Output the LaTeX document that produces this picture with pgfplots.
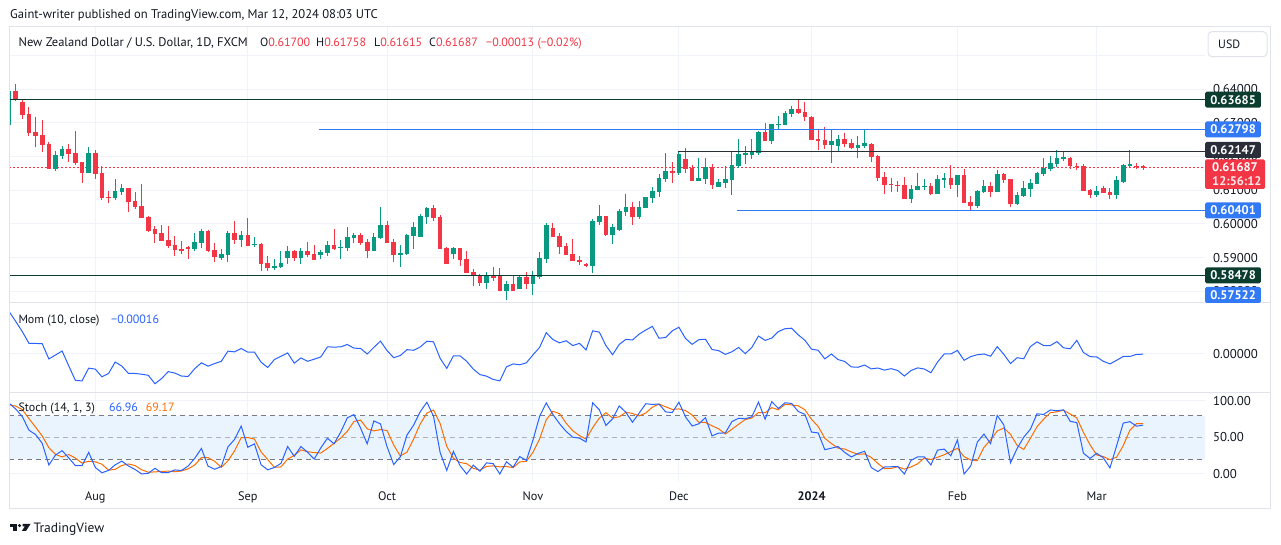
\documentclass[border=0pt]{standalone}
\usepackage{pgfplots}
\pgfplotsset{compat=1.18}
\usepackage{pgfplotstable}
\usepackage{fontspec}
\setmainfont{PT Sans}
\definecolor{tvgreen}{HTML}{089981}
\definecolor{tvred}{HTML}{F23645}
\definecolor{tvblue}{HTML}{2962FF}
\definecolor{tvorange}{HTML}{FF6D00}
\definecolor{tvtext}{HTML}{131722}
\definecolor{tvgrid}{HTML}{F0F3FA}
\definecolor{tvborder}{HTML}{E0E3EB}
\definecolor{tvdgreen}{HTML}{0B3D2E}
\definecolor{tvlblue}{HTML}{3179F5}
\definecolor{tvdark}{HTML}{2A2E39}
\definecolor{tvdash}{HTML}{787B86}
\definecolor{tvband}{HTML}{E9F4FE}

\pgfplotstableread{
i O H L C
0 0.6294 0.6397 0.6291 0.6394
1 0.6394 0.6415 0.6365 0.6368
2 0.6362 0.6368 0.6312 0.6324
3 0.6326 0.6347 0.6261 0.6270
4 0.6273 0.6318 0.6228 0.6261
5 0.6264 0.6308 0.6213 0.6234
6 0.6237 0.6243 0.6163 0.6163
7 0.6163 0.6216 0.6157 0.6204
8 0.6201 0.6231 0.6192 0.6222
9 0.6222 0.6237 0.6184 0.6207
10 0.6210 0.6276 0.6175 0.6181
11 0.6184 0.6184 0.6122 0.6151
12 0.6151 0.6228 0.6151 0.6210
13 0.6210 0.6219 0.6133 0.6148
14 0.6151 0.6172 0.6071 0.6077
15 0.6080 0.6098 0.6062 0.6077
16 0.6077 0.6133 0.6071 0.6098
17 0.6095 0.6119 0.6086 0.6107
18 0.6107 0.6107 0.6035 0.6065
19 0.6068 0.6095 0.6044 0.6050
20 0.6053 0.6119 0.6018 0.6018
21 0.6021 0.6024 0.5976 0.5979
22 0.5985 0.5994 0.5944 0.5970
23 0.5973 0.5997 0.5950 0.5950
24 0.5952 0.5994 0.5929 0.5935
25 0.5938 0.5964 0.5905 0.5923
26 0.5926 0.5950 0.5911 0.5920
27 0.5932 0.5935 0.5896 0.5926
28 0.5926 0.5973 0.5920 0.5947
29 0.5944 0.5985 0.5929 0.5979
30 0.5979 0.5982 0.5917 0.5920
31 0.5923 0.5944 0.5887 0.5902
32 0.5899 0.5926 0.5893 0.5911
33 0.5908 0.5979 0.5887 0.5973
34 0.5973 0.6009 0.5941 0.5952
35 0.5952 0.5979 0.5932 0.5967
36 0.5967 0.6018 0.5935 0.5935
37 0.5938 0.5961 0.5932 0.5941
38 0.5941 0.5944 0.5861 0.5881
39 0.5884 0.5905 0.5861 0.5870
40 0.5872 0.5896 0.5864 0.5875
41 0.5872 0.5920 0.5870 0.5884
42 0.5899 0.5935 0.5881 0.5920
43 0.5920 0.5923 0.5890 0.5899
44 0.5899 0.5929 0.5881 0.5920
45 0.5920 0.5947 0.5902 0.5908
46 0.5911 0.5938 0.5893 0.5893
47 0.5908 0.5923 0.5896 0.5917
48 0.5914 0.5950 0.5905 0.5938
49 0.5938 0.5985 0.5923 0.5926
50 0.5929 0.5952 0.5896 0.5932
51 0.5929 0.5991 0.5920 0.5961
52 0.5958 0.5973 0.5944 0.5967
53 0.5967 0.5973 0.5938 0.5944
54 0.5947 0.5955 0.5899 0.5920
55 0.5920 0.5973 0.5920 0.5961
56 0.5958 0.6050 0.5955 0.5997
57 0.5997 0.6009 0.5944 0.5944
58 0.5947 0.5955 0.5887 0.5908
59 0.5908 0.5938 0.5872 0.5914
60 0.5911 0.5970 0.5908 0.5967
61 0.5964 0.6006 0.5926 0.5991
62 0.5961 0.6030 0.5961 0.6024
63 0.6021 0.6050 0.6000 0.6047
64 0.6047 0.6056 0.6009 0.6018
65 0.6021 0.6027 0.5926 0.5926
66 0.5929 0.5932 0.5881 0.5881
67 0.5911 0.5932 0.5896 0.5929
68 0.5929 0.5929 0.5875 0.5893
69 0.5896 0.5920 0.5855 0.5855
70 0.5858 0.5867 0.5816 0.5845
71 0.5848 0.5852 0.5816 0.5825
72 0.5825 0.5858 0.5807 0.5845
73 0.5845 0.5872 0.5831 0.5842
74 0.5845 0.5870 0.5801 0.5801
75 0.5801 0.5831 0.5775 0.5822
76 0.5822 0.5845 0.5801 0.5801
77 0.5807 0.5845 0.5807 0.5842
78 0.5842 0.5858 0.5807 0.5822
79 0.5822 0.5861 0.5790 0.5848
80 0.5842 0.5917 0.5836 0.5899
81 0.5896 0.6003 0.5884 0.5997
82 0.5988 0.6003 0.5961 0.5961
83 0.5964 0.5973 0.5911 0.5932
84 0.5935 0.5944 0.5908 0.5908
85 0.5911 0.5955 0.5890 0.5890
86 0.5893 0.5905 0.5878 0.5887
87 0.5881 0.5884 0.5872 0.5875
88 0.5875 0.6015 0.5855 0.6009
89 0.6006 0.6056 0.5997 0.6024
90 0.6024 0.6024 0.5964 0.5967
91 0.5967 0.6000 0.5941 0.5991
92 0.5982 0.6044 0.5979 0.6038
93 0.6035 0.6089 0.6024 0.6050
94 0.6050 0.6065 0.5997 0.6021
95 0.6021 0.6068 0.6015 0.6050
96 0.6047 0.6080 0.6047 0.6080
97 0.6077 0.6110 0.6062 0.6098
98 0.6095 0.6148 0.6080 0.6136
99 0.6133 0.6210 0.6125 0.6157
100 0.6157 0.6184 0.6122 0.6154
101 0.6151 0.6213 0.6145 0.6207
102 0.6192 0.6225 0.6151 0.6163
103 0.6166 0.6175 0.6128 0.6128
104 0.6128 0.6195 0.6128 0.6136
105 0.6133 0.6195 0.6119 0.6169
106 0.6169 0.6178 0.6104 0.6116
107 0.6110 0.6133 0.6110 0.6125
108 0.6122 0.6172 0.6107 0.6133
109 0.6130 0.6216 0.6086 0.6175
110 0.6172 0.6252 0.6166 0.6207
111 0.6207 0.6231 0.6178 0.6210
112 0.6204 0.6252 0.6192 0.6216
113 0.6210 0.6276 0.6204 0.6273
114 0.6273 0.6299 0.6246 0.6246
115 0.6246 0.6297 0.6237 0.6297
116 0.6294 0.6321 0.6282 0.6297
117 0.6294 0.6335 0.6294 0.6329
118 0.6326 0.6350 0.6318 0.6341
119 0.6341 0.6370 0.6326 0.6329
120 0.6332 0.6362 0.6305 0.6318
121 0.6318 0.6321 0.6249 0.6249
122 0.6252 0.6279 0.6219 0.6246
123 0.6249 0.6288 0.6222 0.6234
124 0.6234 0.6279 0.6181 0.6246
125 0.6231 0.6264 0.6213 0.6252
126 0.6252 0.6270 0.6228 0.6237
127 0.6240 0.6252 0.6222 0.6225
128 0.6225 0.6261 0.6195 0.6234
129 0.6231 0.6279 0.6225 0.6240
130 0.6237 0.6240 0.6184 0.6198
131 0.6201 0.6204 0.6128 0.6136
132 0.6139 0.6154 0.6089 0.6116
133 0.6119 0.6136 0.6095 0.6116
134 0.6116 0.6128 0.6095 0.6113
135 0.6116 0.6139 0.6074 0.6074
136 0.6074 0.6116 0.6062 0.6104
137 0.6101 0.6151 0.6101 0.6113
138 0.6110 0.6133 0.6101 0.6113
139 0.6113 0.6122 0.6086 0.6089
140 0.6089 0.6145 0.6089 0.6133
141 0.6133 0.6151 0.6107 0.6136
142 0.6136 0.6175 0.6104 0.6116
143 0.6116 0.6145 0.6080 0.6145
144 0.6145 0.6163 0.6062 0.6062
145 0.6065 0.6083 0.6038 0.6053
146 0.6053 0.6101 0.6047 0.6098
147 0.6095 0.6130 0.6092 0.6113
148 0.6113 0.6125 0.6080 0.6095
149 0.6095 0.6160 0.6095 0.6148
150 0.6148 0.6151 0.6122 0.6130
151 0.6133 0.6133 0.6050 0.6059
152 0.6059 0.6095 0.6056 0.6086
153 0.6083 0.6128 0.6080 0.6107
154 0.6104 0.6133 0.6080 0.6122
155 0.6119 0.6154 0.6119 0.6151
156 0.6148 0.6195 0.6142 0.6166
157 0.6163 0.6201 0.6157 0.6181
158 0.6178 0.6219 0.6169 0.6195
159 0.6195 0.6216 0.6187 0.6198
160 0.6195 0.6198 0.6163 0.6172
161 0.6172 0.6181 0.6160 0.6169
162 0.6172 0.6178 0.6098 0.6098
163 0.6101 0.6104 0.6077 0.6086
164 0.6086 0.6113 0.6080 0.6098
165 0.6107 0.6113 0.6092 0.6092
166 0.6095 0.6107 0.6074 0.6086
167 0.6086 0.6142 0.6074 0.6130
168 0.6125 0.6178 0.6122 0.6175
169 0.6172 0.6219 0.6166 0.6178
170 0.6172 0.6181 0.6163 0.6169
171 0.61700 0.61758 0.61615 0.61687
}\candles

\pgfplotstableread{
i m
0 0.0343
1 0.0263
2 0.0180
3 0.0086
4 0.0085
5 0.0083
6 -0.0040
7 -0.0008
8 0.0024
9 -0.0096
10 -0.0213
11 -0.0217
12 -0.0114
13 -0.0122
14 -0.0184
15 -0.0157
16 -0.0065
17 -0.0097
18 -0.0157
19 -0.0157
20 -0.0163
21 -0.0172
22 -0.0240
23 -0.0198
24 -0.0142
25 -0.0154
26 -0.0178
27 -0.0181
28 -0.0118
29 -0.0071
30 -0.0098
31 -0.0077
32 -0.0059
33 0.0023
34 0.0017
35 0.0044
36 0.0015
37 0.0015
38 -0.0066
39 -0.0109
40 -0.0045
41 -0.0018
42 0.0009
43 -0.0074
44 -0.0032
45 -0.0059
46 -0.0042
47 -0.0024
48 0.0057
49 0.0056
50 0.0057
51 0.0077
52 0.0047
53 0.0045
54 0.0000
55 0.0053
56 0.0104
57 0.0027
58 -0.0030
59 -0.0012
60 0.0035
61 0.0030
62 0.0057
63 0.0103
64 0.0098
65 -0.0035
66 -0.0116
67 -0.0015
68 -0.0015
69 -0.0059
70 -0.0122
71 -0.0166
72 -0.0179
73 -0.0205
74 -0.0217
75 -0.0104
76 -0.0080
77 -0.0087
78 -0.0071
79 -0.0007
80 0.0054
81 0.0172
82 0.0116
83 0.0090
84 0.0107
85 0.0068
86 0.0086
87 0.0033
88 0.0187
89 0.0176
90 0.0068
91 -0.0006
92 0.0077
93 0.0118
94 0.0113
95 0.0160
96 0.0193
97 0.0223
98 0.0127
99 0.0133
100 0.0187
101 0.0216
102 0.0125
103 0.0078
104 0.0115
105 0.0119
106 0.0036
107 0.0027
108 -0.0003
109 0.0018
110 0.0053
111 0.0003
112 0.0053
113 0.0145
114 0.0110
115 0.0128
116 0.0181
117 0.0204
118 0.0208
119 0.0154
120 0.0111
121 0.0039
122 0.0030
123 -0.0039
124 0.0000
125 -0.0045
126 -0.0060
127 -0.0104
128 -0.0107
129 -0.0089
130 -0.0120
131 -0.0113
132 -0.0130
133 -0.0118
134 -0.0133
135 -0.0178
136 -0.0133
137 -0.0112
138 -0.0121
139 -0.0151
140 -0.0065
141 0.0000
142 0.0000
143 0.0029
144 -0.0051
145 -0.0021
146 -0.0006
147 0.0000
148 -0.0018
149 0.0059
150 -0.0003
151 -0.0077
152 -0.0030
153 -0.0038
154 0.0060
155 0.0098
156 0.0068
157 0.0068
158 0.0100
159 0.0050
160 0.0042
161 0.0110
162 0.0012
163 -0.0021
164 -0.0024
165 -0.0059
166 -0.0080
167 -0.0051
168 -0.0020
169 -0.0020
170 -0.0003
171 -0.00016
}\mom

\pgfplotstableread{
i k d
0 97 95
1 89 93
2 78.5 88.2
3 60 75.8
4 54 64.2
5 42 52.0
6 12.3 36.1
7 26 26.8
8 32 23.4
9 22 26.7
10 11.4 21.8
11 11.4 14.9
12 29.7 17.5
13 8.9 16.7
14 1.7 13.4
15 4.9 5.2
16 12.6 6.4
17 17.6 11.7
18 11.0 13.7
19 6.2 11.6
20 0 5.7
21 1.0 2.4
22 7.8 2.9
23 1.8 3.5
24 2.0 3.9
25 5.6 3.1
26 4.8 4.1
27 10.9 7.1
28 21.5 12.4
29 35.0 22.5
30 10.8 22.4
31 6.5 17.4
32 10.3 9.2
33 37.1 18.0
34 47.4 31.6
35 65.6 50.0
36 36.6 49.9
37 41.2 47.8
38 12.7 30.2
39 5.7 19.9
40 8.9 9.1
41 14.6 9.7
42 37.6 20.4
43 24.2 25.5
44 37.6 33.1
45 29.9 30.6
46 20.4 29.3
47 35.7 28.7
48 49.0 35.0
49 41.4 42.0
50 57.3 49.2
51 76.9 58.5
52 81.5 71.9
53 63.0 73.8
54 41.3 61.9
55 72.7 59.0
56 68.6 60.9
57 37.3 59.5
58 12.9 39.6
59 23.6 24.6
60 53.4 30.0
61 66.9 48.0
62 85.4 68.6
63 98.3 83.5
64 79.3 87.7
65 29.3 69.0
66 4.9 37.8
67 31.0 21.7
68 11.4 15.8
69 0 14.1
70 12.1 7.8
71 3.8 5.3
72 15.3 10.4
73 14.1 11.1
74 0 9.8
75 16.7 10.3
76 9.3 8.7
77 23.8 16.6
78 18.7 17.3
79 46.5 29.7
80 79.0 48.1
81 97.4 74.3
82 81.6 86.0
83 68.9 82.6
84 58.3 69.6
85 50.4 59.2
86 49.1 52.6
87 43.9 47.8
88 97.5 63.5
89 88.0 76.5
90 66.5 84.0
91 75.6 76.7
92 93.2 78.4
93 84.6 84.5
94 70.9 82.9
95 83.3 79.6
96 96.2 83.5
97 95.3 91.6
98 95.9 95.8
99 85.1 92.1
100 84.2 88.4
101 98.3 89.2
102 78.2 86.9
103 65.8 80.8
104 68.7 70.9
105 77.2 70.6
106 52.2 66.0
107 56.1 61.8
108 56.2 54.8
109 71.9 61.4
110 76.3 68.1
111 75.6 74.6
112 78.3 76.7
113 98.4 84.1
114 75.1 83.9
115 99.1 90.9
116 89.8 88.0
117 97.6 95.5
118 96.6 94.7
119 85.6 93.3
120 81.7 88.0
121 57.4 74.9
122 56.3 65.1
123 33.3 49.0
124 35.4 41.7
125 37.6 35.4
126 29.6 34.2
127 23.3 30.2
128 28.0 27.0
129 31.2 27.5
130 9.0 22.7
131 3.3 14.5
132 9.6 7.3
133 9.9 7.6
134 10.3 9.9
135 0 6.7
136 18.6 9.6
137 23.5 14.0
138 23.5 21.9
139 12.4 19.8
140 32.7 22.9
141 34.1 26.4
142 24.9 30.6
143 46.6 35.2
144 0 23.8
145 10.9 19.2
146 43.8 18.2
147 54.7 36.5
148 41.6 46.7
149 80.3 58.9
150 67.2 63.0
151 15.3 54.3
152 35.0 39.2
153 50.4 33.6
154 61.3 48.9
155 82.5 64.7
156 81.5 75.1
157 87.7 83.9
158 86.7 85.3
159 87.8 87.4
160 72.2 82.2
161 70.4 76.8
162 28.4 57.0
163 21.3 40.0
164 28.4 26.0
165 22.1 23.9
166 8.3 19.6
167 38.6 23.0
168 69.7 38.9
169 71.7 60.0
170 65.5 69.0
171 66.96 69.17
}\stoch

\pgfplotsset{
  tvpane/.style={
    scale only axis, width=1195pt, anchor=south west, at={(0pt,0pt)},
    xmin=0.139, xmax=180.33,
    scaled x ticks=false, scaled y ticks=false,
    axis line style={draw=none}, major tick length=0pt, tick style={draw=none},
    xtick={13,36,57,79,101,121,143,164},
    xmajorgrids, ymajorgrids,
    major grid style={draw=tvgrid, line width=1pt},
    yticklabel pos=right,
    yticklabel style={anchor=west, inner sep=0pt, xshift=8pt, text=tvtext, font=\fontsize{12.8}{14}\selectfont},
  },
  wick/.style={draw=none, mark=none, forget plot, unbounded coords=discard,
    error bars/y dir=both, error bars/y explicit, error bars/error mark=none,
    error bars/error bar style={draw=#1, solid, line width=1pt}},
  body/.style={draw=none, mark=none, forget plot, unbounded coords=discard,
    error bars/y dir=both, error bars/y explicit, error bars/error mark=none,
    error bars/error bar style={draw=#1, solid, line width=4.6pt}},
}

\begin{document}
\begin{tikzpicture}[x=1pt,y=1pt,font=\fontsize{12}{14}\selectfont]
\fill[white] (0,0) rectangle (1281,545);

% ---------------- price pane
\begin{scope}[shift={(10pt,242pt)}]
\begin{axis}[tvpane, height=276pt,
  ymin=0.57657, ymax=0.65840,
  ytick={0.58,0.59,0.60,0.61,0.62,0.63,0.64,0.65},
  yticklabels={0.58000,0.59000,0.60000,0.61000,0.62000,0.63000,0.64000,{}},
  xticklabels={}]
\addplot[tvred, line width=1pt, dash pattern=on 2pt off 2pt, forget plot] coordinates {(0,0.61687) (181,0.61687)};
% green candles
\addplot[wick=tvgreen, restrict expr to domain={\thisrow{C}-\thisrow{O}}{0:1}]
  table[x=i, y expr={(\thisrow{H}+\thisrow{L})/2}, y error expr={(\thisrow{H}-\thisrow{L})/2}] {\candles};
\addplot[body=tvgreen, restrict expr to domain={\thisrow{C}-\thisrow{O}}{0:1}]
  table[x=i, y expr={(\thisrow{O}+\thisrow{C})/2}, y error expr={max(abs(\thisrow{C}-\thisrow{O})/2,0.00015)}] {\candles};
% red candles
\addplot[wick=tvred, restrict expr to domain={\thisrow{O}-\thisrow{C}}{0.00001:1}]
  table[x=i, y expr={(\thisrow{H}+\thisrow{L})/2}, y error expr={(\thisrow{H}-\thisrow{L})/2}] {\candles};
\addplot[body=tvred, restrict expr to domain={\thisrow{O}-\thisrow{C}}{0.00001:1}]
  table[x=i, y expr={(\thisrow{O}+\thisrow{C})/2}, y error expr={max(abs(\thisrow{C}-\thisrow{O})/2,0.00015)}] {\candles};
% drawn horizontal levels
\addplot[tvdgreen, line width=1.2pt] coordinates {(0,0.63685) (181,0.63685)};
\addplot[tvlblue, line width=1.2pt] coordinates {(46.73,0.62798) (181,0.62798)};
\addplot[tvdark, line width=1.2pt] coordinates {(100.8,0.62147) (181,0.62147)};
\addplot[tvlblue, line width=1.2pt] coordinates {(109.8,0.60401) (181,0.60401)};
\addplot[tvdgreen, line width=1.2pt] coordinates {(0,0.58478) (181,0.58478)};
\end{axis}
\end{scope}

% ---------------- momentum pane
\begin{scope}[shift={(10pt,152.7pt)}]
\begin{axis}[tvpane, height=89.3pt,
  ymin=-0.030887, ymax=0.041129,
  ytick={0}, yticklabels={0.00000}, xticklabels={}]
\addplot[tvblue, line width=1pt] table[x=i, y=m] {\mom};
\end{axis}
\end{scope}

% ---------------- stochastic pane
\begin{scope}[shift={(10pt,63pt)}]
\begin{axis}[tvpane, height=89.7pt,
  ymin=-10.96, ymax=111.92,
  ytick={0,50,100}, yticklabels={0.00,50.00,100.00},
  xticklabels={Aug,Sep,Oct,Nov,Dec,\textbf{2024},Feb,Mar},
  xticklabel style={anchor=base, inner sep=0pt, yshift=-18.3pt, text=tvtext, font=\fontsize{12.3}{14}\selectfont}]
\addplot[fill=tvband, draw=none] coordinates {(0,20) (181,20) (181,80) (0,80) (0,20)};
\addplot[tvdash, line width=1pt, dash pattern=on 5pt off 4pt] coordinates {(0,80) (181,80)};
\addplot[tvdash!60, line width=1pt, dash pattern=on 5pt off 4pt] coordinates {(0,50) (181,50)};
\addplot[tvdash, line width=1pt, dash pattern=on 5pt off 4pt] coordinates {(0,20) (181,20)};
\addplot[tvorange, line width=1pt] table[x=i, y=d] {\stoch};
\addplot[tvblue, line width=1pt] table[x=i, y=k] {\stoch};
\end{axis}
\end{scope}

% ---------------- frame and separators
\draw[tvborder, line width=1pt] (9.5,36) rectangle (1270.5,518);
\draw[tvborder, line width=1pt] (9.5,242) -- (1270.5,242);
\draw[tvborder, line width=1pt] (9.5,152.7) -- (1270.5,152.7);

% ---------------- header texts
\node[anchor=base west, inner sep=0pt, text=tvtext, font=\fontsize{12.6}{14}\selectfont] at (10,526.7) {Gaint-writer published on TradingView.com, Mar 12, 2024 08:03 UTC};
\node[anchor=base west, inner sep=0pt, text=tvtext, font=\fontsize{12.5}{14}\selectfont] at (18.4,498.7) {New Zealand Dollar / U.S. Dollar, 1D, FXCM};
\node[anchor=base west, inner sep=0pt] at (260,498.7) {\textcolor{tvtext}{O}\textcolor{tvred}{0.61700}};
\node[anchor=base west, inner sep=0pt] at (316,498.7) {\textcolor{tvtext}{H}\textcolor{tvred}{0.61758}};
\node[anchor=base west, inner sep=0pt] at (374,498.7) {\textcolor{tvtext}{L}\textcolor{tvred}{0.61615}};
\node[anchor=base west, inner sep=0pt] at (429,498.7) {\textcolor{tvtext}{C}\textcolor{tvred}{0.61687}};
\node[anchor=base west, inner sep=0pt, text=tvred] at (486,498.7) {−0.00013};
\node[anchor=base west, inner sep=0pt, text=tvred] at (537.3,498.7) {(−0.02\%)};

\node[anchor=base west, inner sep=0pt, text=tvtext] at (18.3,221.7) {Mom (10, close)};
\node[anchor=base west, inner sep=0pt, text=tvblue] at (111,221.7) {−0.00016};
\node[anchor=base west, inner sep=0pt, text=tvtext] at (18.3,133) {Stoch (14, 1, 3)};
\node[anchor=base west, inner sep=0pt, text=tvblue] at (109,133) {66.96};
\node[anchor=base west, inner sep=0pt, text=tvorange] at (145.7,133) {69.17};

% ---------------- USD button
\draw[tvborder, line width=1pt, fill=white, rounded corners=4pt] (1208,488.3) rectangle (1267,513.3);
\node[anchor=base west, inner sep=0pt, text=tvtext] at (1218,496.7) {USD};

% ---------------- price labels
\tikzset{lbl/.style={anchor=west, inner sep=0pt, minimum width=55.7pt, minimum height=16pt,
  text=white, rounded corners=1.5pt, font=\fontsize{12.5}{14}\selectfont\bfseries}}
\node[lbl, fill=tvdgreen] at (1205,445.3) {0.63685};
\node[lbl, fill=tvlblue] at (1205,415.7) {0.62798};
\node[lbl, fill=tvdark] at (1205,395) {0.62147};
\fill[tvred, rounded corners=1.5pt] (1205,356) rectangle (1265,385.7);
\node[anchor=west, inner sep=0pt, text=white, font=\fontsize{12.5}{14}\selectfont\bfseries] at (1212,378) {0.61687};
\node[anchor=west, inner sep=0pt, text=white!88!tvred, font=\fontsize{12.5}{14}\selectfont\bfseries] at (1212,363.5) {12:56:12};
\node[lbl, fill=tvlblue] at (1205,334.7) {0.60401};
\node[lbl, fill=tvdgreen] at (1205,269.7) {0.58478};
\node[lbl, fill=tvlblue] at (1205,250) {0.57522};

% ---------------- TradingView logo
\fill[tvtext] (9.5,21) rectangle (16.5,18);
\fill[tvtext] (12.5,18) rectangle (16.5,14);
\fill[tvtext] (19.6,19.4) circle (1.7);
\fill[tvtext] (22.5,21) -- (30.5,21) -- (26,14) -- (21.8,14) -- (24.8,18.5) -- (22.5,18.5) -- cycle;
\node[anchor=base west, inner sep=0pt, text=tvtext, font=\fontsize{13.5}{15}\selectfont] at (33.3,12.3) {TradingView};
\end{tikzpicture}
\end{document}
